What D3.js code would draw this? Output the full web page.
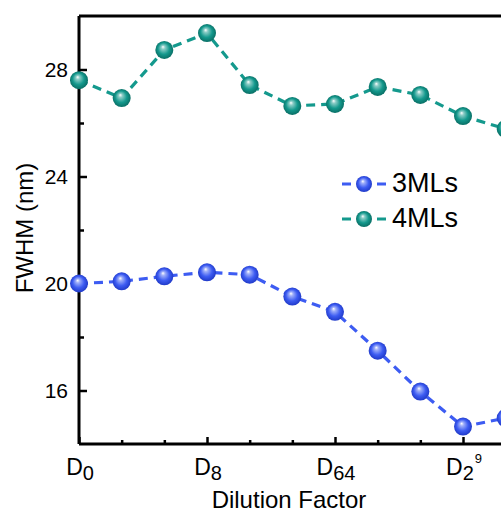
<!DOCTYPE html>
<html><head><meta charset="utf-8">
<script src="https://cdn.jsdelivr.net/npm/d3@7"></script>
<style>html,body{margin:0;padding:0;background:#fff;overflow:hidden}</style>
</head><body>
<svg id="c" width="501" height="515"></svg>
<script>
const xIndex = [0,1,2,3,4,5,6,7,8,9,10];
const fwhm3ML = [20.0, 20.08, 20.27, 20.42, 20.33, 19.51, 18.94, 17.49, 15.96, 14.65, 14.97];
const fwhm4ML = [27.6, 26.93, 28.73, 29.36, 27.42, 26.64, 26.71, 27.35, 27.05, 26.26, 25.78];
const seriesNames = ["3MLs", "4MLs"];
const xTickPos = [0,3,6,9];
const xTickLabels = [["D","0",""],["D","8",""],["D","64",""],["D","2","9"]];
const yTicks = [16,20,24,28];
const yMinor = [18,22,26];

const svg = d3.select("#c");
const FONT = "'Liberation Sans', Arial, sans-serif";
const x = d3.scaleLinear().domain([0, 9]).range([79, 463]);
const y = d3.scaleLinear().domain([14, 30]).range([444, 16]);
const colors = ["#3d5cf2", "#14998d"];
const dark = ["#1a33c0", "#07665d"];

const defs = svg.append("defs");
colors.forEach((c,i)=>{
  const g = defs.append("radialGradient").attr("id","g"+i)
    .attr("cx","50%").attr("cy","50%").attr("r","55%").attr("fx","42%").attr("fy","32%");
  g.append("stop").attr("offset","0%").attr("stop-color","#ffffff");
  g.append("stop").attr("offset","20%").attr("stop-color",d3.interpolateRgb(c,"#fff")(0.5));
  g.append("stop").attr("offset","58%").attr("stop-color",c);
  g.append("stop").attr("offset","100%").attr("stop-color",dark[i]);
});

const xR = x(10.9);
// frame
svg.append("line").attr("x1",79).attr("x2",xR).attr("y1",y(30)).attr("y2",y(30)).attr("stroke","#000").attr("stroke-width",3);
// axes
const xAxis = d3.axisBottom(x).tickValues(xIndex).tickSize(-4).tickFormat("");
const gx = svg.append("g").attr("transform","translate(0,444)").call(xAxis);
gx.select(".domain").attr("d",`M79,0H${xR}`).attr("stroke-width",3);
gx.selectAll(".tick line").attr("stroke-width",2.5).attr("y2", d=> xTickPos.includes(d) ? -7 : -4);

const yAxis = d3.axisLeft(y).tickValues(yTicks.concat(yMinor)).tickSize(-5).tickFormat("");
const gy = svg.append("g").attr("transform","translate(79,0)").call(yAxis);
gy.select(".domain").attr("d","M0,444V16").attr("stroke-width",3);
gy.selectAll(".tick line").attr("stroke-width",2.5).attr("x2", d=> yTicks.includes(d) ? 8 : 5);

// y tick labels
svg.selectAll(".ylab").data(yTicks).enter().append("text")
  .attr("x",68).attr("y",d=>y(d)+7.5).attr("text-anchor","end")
  .attr("font-family",FONT).attr("font-size",21).text(d=>d);

// x tick labels
xTickPos.forEach((p,i)=>{
  const lab = xTickLabels[i];
  const t = svg.append("text").attr("x",x(p)+1).attr("y",475).attr("text-anchor","middle")
    .attr("font-family",FONT).attr("font-size",23);
  t.append("tspan").text(lab[0]);
  t.append("tspan").attr("font-size",20).attr("dy",5).text(lab[1]);
  if (lab[2]) t.append("tspan").attr("font-size",13).attr("dy",-17).attr("dx",1).text(lab[2]);
});

// axis titles
svg.append("text").attr("x",289).attr("y",508).attr("text-anchor","middle")
  .attr("font-family",FONT).attr("font-size",24).text("Dilution Factor");
svg.append("text").attr("transform","translate(33,228) rotate(-90)").attr("text-anchor","middle")
  .attr("font-family",FONT).attr("font-size",24).text("FWHM (nm)");

// series
const line = d3.line().x((d,i)=>x(xIndex[i])).y(d=>y(d));
[fwhm3ML, fwhm4ML].forEach((s,i)=>{
  svg.append("path").datum(s).attr("d",line).attr("fill","none")
    .attr("stroke",colors[i]).attr("stroke-width",3.2).attr("stroke-dasharray","9,6");
});
[fwhm3ML, fwhm4ML].forEach((s,i)=>{
  svg.selectAll(".m"+i).data(s).enter().append("circle")
    .attr("cx",(d,j)=>x(xIndex[j])).attr("cy",d=>y(d)).attr("r",9)
    .attr("fill",`url(#g${i})`);
});

// legend
const legY = [184, 219];
seriesNames.forEach((n,i)=>{
  svg.append("line").attr("x1",342).attr("x2",386).attr("y1",legY[i]).attr("y2",legY[i])
    .attr("stroke",colors[i]).attr("stroke-width",3.2).attr("stroke-dasharray","9,26");
  svg.append("circle").attr("cx",364).attr("cy",legY[i]).attr("r",8).attr("fill",`url(#g${i})`);
  svg.append("text").attr("x",392).attr("y",legY[i]+7.5).attr("font-family",FONT)
    .attr("font-size",27).text(n);
});
</script>
</body></html>
